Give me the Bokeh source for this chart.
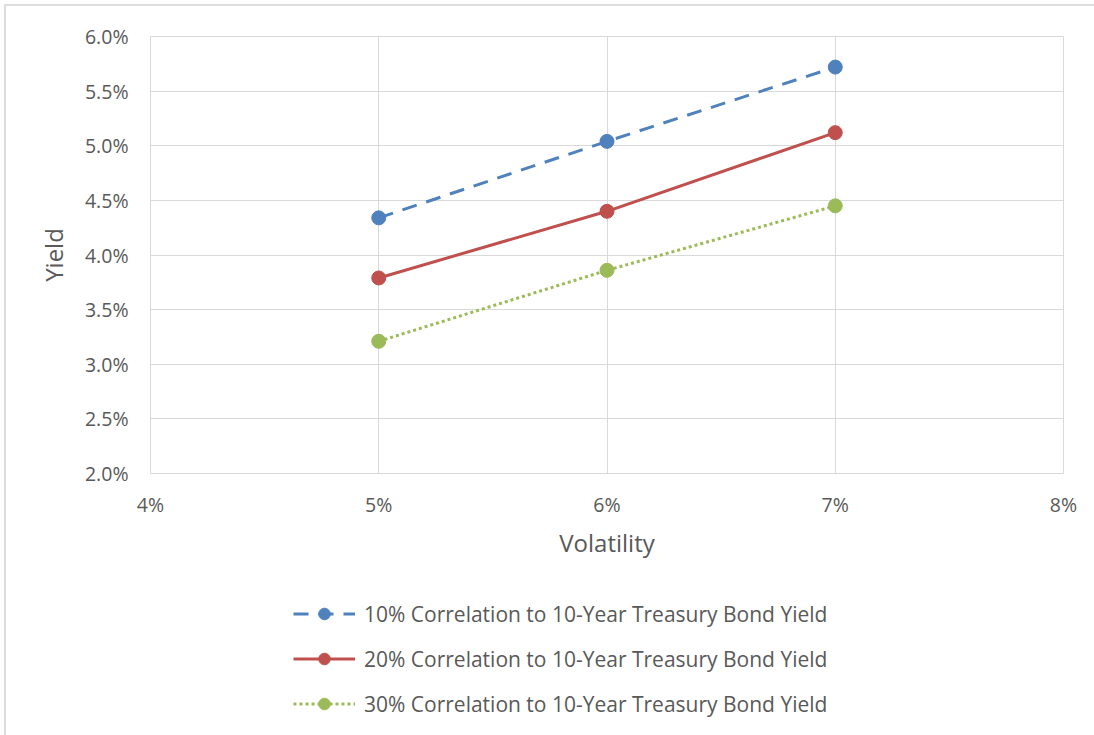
from bokeh.plotting import figure
from bokeh.models import (FixedTicker, NumeralTickFormatter, Legend, LegendItem,
                          Range1d)
from bokeh.layouts import column
from bokeh.embed import file_html
from bokeh.resources import INLINE

# ---- data ----
volatility = [0.05, 0.06, 0.07]
yield_10 = [0.0434, 0.0504, 0.0572]
yield_20 = [0.0379, 0.0440, 0.0512]
yield_30 = [0.0321, 0.0386, 0.0445]
series_names = [
    "10% Correlation to 10-Year Treasury Bond Yield",
    "20% Correlation to 10-Year Treasury Bond Yield",
    "30% Correlation to 10-Year Treasury Bond Yield",
]
x_ticks = [0.04, 0.05, 0.06, 0.07, 0.08]
y_ticks = [0.02, 0.025, 0.03, 0.035, 0.04, 0.045, 0.05, 0.055, 0.06]

FONT = "Open Sans"
GRAY = "#595959"
GRID = "#d9d9d9"
blue, red, green = "#4F81BD", "#C0504D", "#9BBB59"
styles = [
    dict(color=blue, dash="15 10"),
    dict(color=red, dash="solid"),
    dict(color=green, dash="3 3"),
]
series = [yield_10, yield_20, yield_30]

# ---- main chart ----
p = figure(width=1088, height=574, output_backend="svg", toolbar_location=None,
           x_range=Range1d(0.04, 0.08), y_range=Range1d(0.02, 0.06),
           min_border_left=144, min_border_right=31, min_border_top=30,
           min_border_bottom=107)
p.background_fill_color = "white"
p.border_fill_color = "white"
p.outline_line_color = GRID
p.outline_line_width = 1

for ax, ticks, fmt in ((p.xaxis[0], x_ticks, "0%"), (p.yaxis[0], y_ticks, "0.0%")):
    ax.ticker = FixedTicker(ticks=ticks)
    ax.formatter = NumeralTickFormatter(format=fmt)
    ax.axis_line_color = None
    ax.major_tick_line_color = None
    ax.minor_tick_line_color = None
    ax.major_tick_out = 0
    ax.minor_tick_out = 0
    ax.major_label_text_font = FONT
    ax.major_label_text_font_size = "19.5px"
    ax.major_label_text_color = GRAY
    ax.axis_label_text_font = FONT
    ax.axis_label_text_font_size = "24px"
    ax.axis_label_text_color = GRAY
    ax.axis_label_text_font_style = "normal"

p.xaxis.axis_label = "Volatility"
p.yaxis.axis_label = "Yield"
p.xaxis.major_label_standoff = 17
p.yaxis.major_label_standoff = 22
p.xaxis.axis_label_standoff = 5
p.yaxis.axis_label_standoff = 12

p.xgrid.ticker = FixedTicker(ticks=x_ticks)
p.ygrid.ticker = FixedTicker(ticks=y_ticks)
p.grid.grid_line_color = GRID
p.grid.grid_line_width = 1

for ys, st in zip(series, styles):
    p.line(volatility, ys, line_color=st["color"], line_width=3, line_dash=st["dash"])
    p.scatter(volatility, ys, size=14, fill_color=st["color"], line_color=st["color"])

# ---- legend strip (renderers lie outside its visible range) ----
q = figure(width=1088, height=155, output_backend="svg", toolbar_location=None,
           x_range=Range1d(10, 11), y_range=Range1d(10, 11),
           min_border_left=0, min_border_right=0, min_border_top=0,
           min_border_bottom=0)
q.axis.visible = False
q.grid.visible = False
q.outline_line_color = None
q.background_fill_color = "white"
q.border_fill_color = "white"

items = []
for ys, st, name in zip(series, styles, series_names):
    lr = q.line(volatility, ys, line_color=st["color"], line_width=3, line_dash=st["dash"])
    cr = q.scatter(volatility, ys, size=14, fill_color=st["color"], line_color=st["color"])
    items.append(LegendItem(label=name, renderers=[lr, cr]))

legend = Legend(items=items, location=(143, 17), orientation="vertical")
legend.padding = 0
legend.margin = 0
legend.spacing = 16
legend.glyph_width = 62
legend.glyph_height = 29
legend.label_height = 29
legend.label_standoff = 9
legend.label_text_font = FONT
legend.label_text_font_size = "21px"
legend.label_text_color = GRAY
legend.background_fill_alpha = 0
legend.border_line_color = None
q.add_layout(legend, "center")

layout = column(p, q, spacing=0,
                styles={"margin-left": "4px", "margin-top": "4px",
                        "border-left": "2px solid #dcdcdc",
                        "border-top": "2px solid #dcdcdc"})

open("out.html", "w").write(file_html(layout, INLINE))
